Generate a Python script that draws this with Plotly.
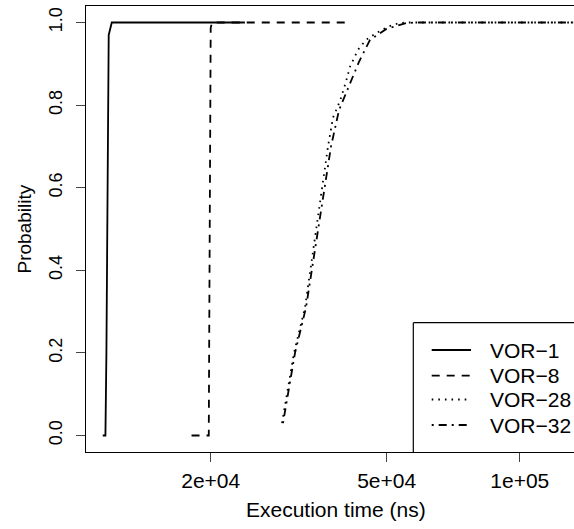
import plotly.graph_objects as go

# ---- data ----
series_names = ["VOR\u22121", "VOR\u22128", "VOR\u221228", "VOR\u221232"]

vor1_x = [11400, 11560, 11620, 11760, 11950, 23900]
vor1_y = [0.0, 0.0, 0.2, 0.97, 1.0, 1.0]

vor8_x = [18100, 19800, 19900, 20000, 20150, 41100]
vor8_y = [0.0, 0.0, 0.5, 0.987, 1.0, 1.0]

vor28_x = [28995, 29760, 30865, 32684, 34074, 35709, 36842, 37815, 39217, 40357,
           41314, 43073, 44907, 47304, 50350, 52765, 55013, 140000]
vor28_y = [0.03, 0.10, 0.20, 0.31, 0.45, 0.60, 0.70, 0.77, 0.81, 0.853,
           0.893, 0.934, 0.958, 0.974, 0.990, 0.997, 1.0, 1.0]

vor32_x = [29146, 29916, 31026, 32855, 34431, 36083, 37423, 39014, 41746, 43298,
           45850, 49829, 55300, 57950, 140000]
vor32_y = [0.03, 0.10, 0.20, 0.31, 0.45, 0.60, 0.70, 0.788, 0.865, 0.905,
           0.958, 0.984, 0.9985, 1.0, 1.0]

x_tick_vals = [20000, 50000, 100000]
x_tick_text = ["2e+04", "5e+04", "1e+05"]
y_tick_vals = [0.0, 0.2, 0.4, 0.6, 0.8, 1.0]
y_tick_text = ["0.0", "0.2", "0.4", "0.6", "0.8", "1.0"]

x_title = "Execution time (ns)"
y_title = "Probability"

# ---- styles ----
dashes = ["solid", "8px,7px", "1.6px,5px", "2px,5px,8px,5px"]
FONT = "Liberation Sans, Arial, Helvetica, sans-serif"
LW = 1.8
FS = 21

fig = go.Figure()
for name, xs, ys, d in zip(series_names,
                           [vor1_x, vor8_x, vor28_x, vor32_x],
                           [vor1_y, vor8_y, vor28_y, vor32_y],
                           dashes):
    fig.add_trace(go.Scatter(x=xs, y=ys, mode="lines", name=name,
                             line=dict(color="black", width=LW, dash=d),
                             showlegend=False))

W, H = 574, 529
L, T, B = 86, 6, 77
pw = W - L
ph = H - T - B

def px_x(p):
    return (p - L) / pw

def px_y(p):
    return (H - B - p) / ph

shapes = []
annotations = []

# legend box (left and top edges; bottom coincides with axis, right side off-image)
shapes.append(dict(type="line", xref="paper", yref="paper",
                   x0=px_x(413.3), x1=px_x(413.3), y0=0, y1=px_y(322.7),
                   line=dict(color="black", width=1.2)))
shapes.append(dict(type="line", xref="paper", yref="paper",
                   x0=px_x(413.3), x1=1.05, y0=px_y(322.7), y1=px_y(322.7),
                   line=dict(color="black", width=1.2)))

row_y = [350, 375.7, 399.5, 425]
for name, d, ry in zip(series_names, dashes, row_y):
    shapes.append(dict(type="line", xref="paper", yref="paper",
                       x0=px_x(431.7), x1=px_x(471), y0=px_y(ry), y1=px_y(ry),
                       line=dict(color="black", width=LW, dash=d)))
    annotations.append(dict(xref="paper", yref="paper", x=px_x(488), y=px_y(ry),
                            xanchor="left", yanchor="middle", showarrow=False,
                            text=name, font=dict(family=FONT, size=FS, color="black")))

annotations.append(dict(xref="paper", yref="paper", x=px_x(336), y=px_y(509),
                        xanchor="center", yanchor="middle", showarrow=False,
                        text=x_title, font=dict(family=FONT, size=FS, color="black")))
annotations.append(dict(xref="paper", yref="paper", x=px_x(23.5), y=px_y(229),
                        xanchor="center", yanchor="middle", showarrow=False,
                        textangle=-90,
                        text=y_title, font=dict(family=FONT, size=19, color="black")))

fig.update_layout(
    width=W, height=H,
    margin=dict(l=L, r=0, t=T, b=B, pad=0),
    paper_bgcolor="white", plot_bgcolor="white",
    font=dict(family=FONT, color="black"),
    shapes=shapes, annotations=annotations,
    showlegend=False,
)
fig.update_xaxes(type="log", range=[4.01904, 5.12262],
                 tickvals=x_tick_vals, ticktext=x_tick_text,
                 tickfont=dict(family=FONT, size=FS, color="black"),
                 ticks="outside", ticklen=9, tickwidth=1, tickcolor="#444",
                 ticklabelstandoff=1,
                 showline=True, linecolor="black", linewidth=1.3, mirror=True,
                 showgrid=False, zeroline=False)
fig.update_yaxes(range=[-0.04, 1.04],
                 tickvals=y_tick_vals, ticktext=y_tick_text,
                 tickangle=-90,
                 tickfont=dict(family=FONT, size=18, color="black"),
                 ticks="outside", ticklen=9, tickwidth=1, tickcolor="#444",
                 ticklabelstandoff=7,
                 showline=True, linecolor="black", linewidth=1.3, mirror=False,
                 showgrid=False, zeroline=False)

fig.write_html("out.html")
